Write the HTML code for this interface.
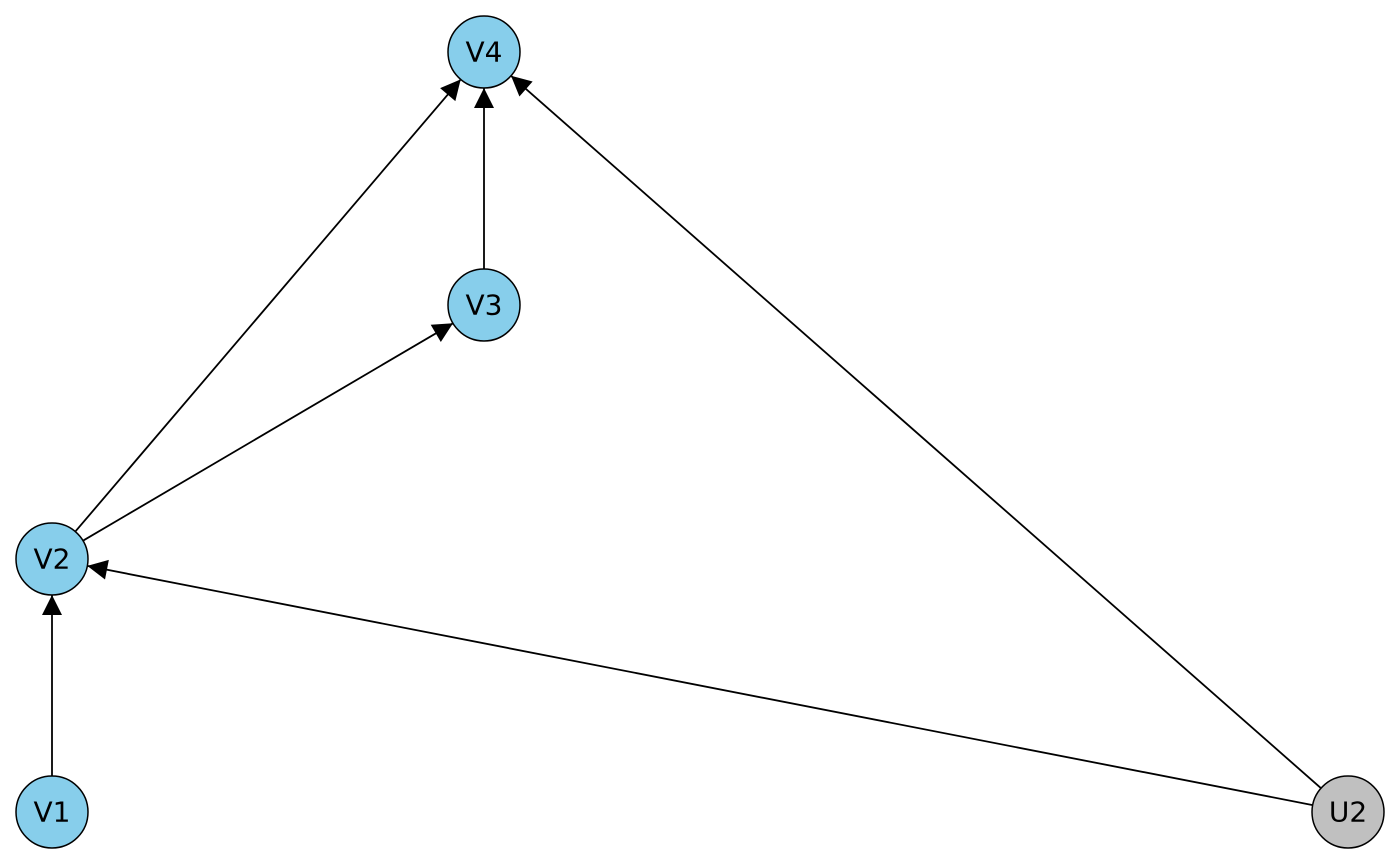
<!DOCTYPE html>
<html><head><meta charset="utf-8"><style>html,body{margin:0;padding:0;background:#fff}svg{display:block}</style></head>
<body>
<svg width="1400" height="865" viewBox="0 0 1400 865" xmlns="http://www.w3.org/2000/svg">
<defs>
<marker id="a" markerWidth="20" markerHeight="20" refX="20" refY="10" orient="auto" markerUnits="userSpaceOnUse" style="overflow:visible">
<path d="M0,0 L20,10 L0,20 z" fill="#000"/>
</marker>
</defs>
<g stroke="#000" stroke-width="1.8" fill="none" marker-end="url(#a)">
<line x1="52" y1="776" x2="52" y2="595"/>
<line x1="484" y1="269" x2="484" y2="88"/>
<line x1="83" y1="540.7" x2="453" y2="323.3"/>
<line x1="75.3" y1="531.6" x2="460.7" y2="79.4"/>
<line x1="1321" y1="788.2" x2="511" y2="75.8"/>
<line x1="1312.7" y1="805.1" x2="87.3" y2="565.9"/>
</g>
<g stroke="#000" stroke-width="1.5">
<circle cx="484" cy="52" r="36" fill="#87CEEB"/>
<circle cx="484" cy="305" r="36" fill="#87CEEB"/>
<circle cx="52" cy="559" r="36" fill="#87CEEB"/>
<circle cx="52" cy="812" r="36" fill="#87CEEB"/>
<circle cx="1348" cy="812" r="36" fill="#C0C0C0"/>
</g>
<g font-family="DejaVu Sans, sans-serif" font-size="28" text-anchor="middle" dominant-baseline="central" fill="#000">
<text x="484" y="52">V4</text>
<text x="484" y="305">V3</text>
<text x="52" y="559">V2</text>
<text x="52" y="812">V1</text>
<text x="1348" y="812">U2</text>
</g>
</svg>
</body></html>
